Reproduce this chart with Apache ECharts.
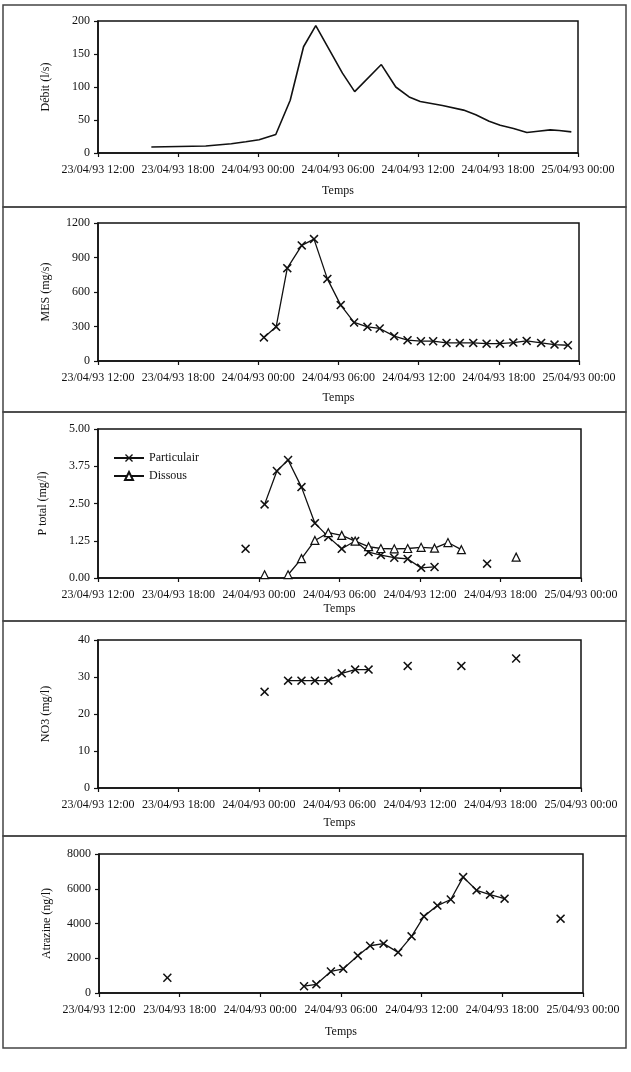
<!DOCTYPE html>
<html>
<head>
<meta charset="utf-8">
<script src="https://cdn.jsdelivr.net/npm/echarts@6/dist/echarts.min.js"></script>
<style>
  html, body { margin: 0; padding: 0; background: #fff; }
  #chart { width: 631px; height: 1072px; }
</style>
</head>
<body>
<div id="chart"></div>
<script>
  // x tick labels, one every 6 hours from 23/04/93 12:00
  const tickLabels = ['23/04/93 12:00', '23/04/93 18:00', '24/04/93 00:00', '24/04/93 06:00',
    '24/04/93 12:00', '24/04/93 18:00', '25/04/93 00:00']

  // Débit (l/s)
  const debitTimes = ['23/04 16:00', '23/04 20:05', '23/04 22:00', '23/04 23:05', '24/04 00:05', '24/04 01:20',
    '24/04 02:25', '24/04 03:25', '24/04 04:20', '24/04 06:20', '24/04 07:15', '24/04 09:15', '24/04 10:20',
    '24/04 11:20', '24/04 12:10', '24/04 13:50', '24/04 15:25', '24/04 16:20', '24/04 17:20', '24/04 18:10',
    '24/04 19:10', '24/04 20:10', '24/04 21:00', '24/04 21:55', '24/04 22:35', '24/04 23:30']
  const debitValues = [9, 10.5, 14, 17, 20, 28, 80, 161, 193, 121, 93, 134, 100,
    85, 78, 72, 65, 58, 48, 42, 37, 31, 33, 35, 34, 32]

  // MES (mg/s)
  const mesTimes = ['24/04 00:25', '24/04 01:20', '24/04 02:10', '24/04 03:15', '24/04 04:10', '24/04 05:10',
    '24/04 06:10', '24/04 07:10', '24/04 08:10', '24/04 09:05', '24/04 10:10', '24/04 11:10', '24/04 12:10',
    '24/04 13:05', '24/04 14:05', '24/04 15:05', '24/04 16:05', '24/04 17:05', '24/04 18:05', '24/04 19:05',
    '24/04 20:05', '24/04 21:10', '24/04 22:10', '24/04 23:10']
  const mesValues = [205, 297, 807, 1005, 1060, 714, 486, 335, 297, 283, 216, 181, 172,
    172, 157, 157, 157, 151, 151, 160, 175, 157, 143, 137]

  // P total (mg/l), null = no sample (line break)
  const partTimes = ['23/04 23:00', '23/04 23:40', '24/04 00:25', '24/04 01:20', '24/04 02:10', '24/04 03:10',
    '24/04 04:10', '24/04 05:10', '24/04 06:10', '24/04 07:10', '24/04 08:10', '24/04 09:05', '24/04 10:05',
    '24/04 11:05', '24/04 12:05', '24/04 13:05', '24/04 15:00', '24/04 17:00']
  const partValues = [0.98, null, 2.47, 3.59, 3.96, 3.05, 1.84, 1.38, 0.98, 1.24, 0.87, 0.77, 0.68,
    0.64, 0.34, 0.37, null, 0.48]
  const dissTimes = ['24/04 00:25', '24/04 01:20', '24/04 02:10', '24/04 03:10', '24/04 04:10', '24/04 05:10',
    '24/04 06:10', '24/04 07:10', '24/04 08:10', '24/04 09:05', '24/04 10:05', '24/04 11:05', '24/04 12:05',
    '24/04 13:05', '24/04 14:05', '24/04 15:05', '24/04 17:00', '24/04 19:10']
  const dissValues = [0.11, null, 0.11, 0.65, 1.26, 1.52, 1.43, 1.24, 1.05, 0.99, 0.98, 0.99, 1.03,
    1.00, 1.19, 0.95, null, 0.70]

  // NO3 (mg/l)
  const no3Times = ['24/04 00:25', '24/04 01:20', '24/04 02:10', '24/04 03:10', '24/04 04:10', '24/04 05:10',
    '24/04 06:10', '24/04 07:10', '24/04 08:10', '24/04 09:05', '24/04 11:05', '24/04 13:00', '24/04 15:05',
    '24/04 17:00', '24/04 19:10']
  const no3Values = [26, null, 29, 29, 29, 29, 31, 32, 32, null, 33, null, 33, null, 35]

  // Atrazine (ng/l)
  const atrTimes = ['23/04 17:05', '23/04 20:00', '24/04 03:15', '24/04 04:10', '24/04 05:15', '24/04 06:10',
    '24/04 07:15', '24/04 08:10', '24/04 09:10', '24/04 10:15', '24/04 11:15', '24/04 12:10', '24/04 13:10',
    '24/04 14:10', '24/04 15:05', '24/04 16:05', '24/04 17:05', '24/04 18:10', '24/04 20:00', '24/04 22:20']
  const atrValues = [880, null, 390, 500, 1240, 1390, 2150, 2720, 2840, 2340, 3260, 4410, 5030,
    5380, 6670, 5910, 5660, 5430, null, 4280]

  // hours since 23/04/93 12:00
  function toHours(s) {
    let day = +s.slice(0, 2), h = +s.slice(6, 8), m = +s.slice(9, 11)
    return (day - 23) * 24 + h + m / 60 - 12
  }
  function pairs(times, values) {
    return times.map((t, i) => [toHours(t), values[i] == null ? '-' : values[i]])
  }

  const font = { fontFamily: 'Liberation Serif', fontSize: 12, color: '#111' }
  const crossSymbol = 'path://M0,1.2L1.2,0L5,3.8L8.8,0L10,1.2L6.2,5L10,8.8L8.8,10L5,6.2L1.2,10L0,8.8L3.8,5Z'

  const grids = [
    { left: 98, top: 21, width: 480, height: 132 },
    { left: 98, top: 223, width: 481, height: 138 },
    { left: 98, top: 429, width: 483, height: 149 },
    { left: 98, top: 640, width: 483, height: 148 },
    { left: 99, top: 854, width: 484, height: 139 }
  ]
  const temsGaps = [32, 31, 25, 29, 33]
  const yNames = ['Débit (l/s)', 'MES (mg/s)', 'P total (mg/l)', 'NO3 (mg/l)', 'Atrazine (ng/l)']
  const yMax = [200, 1200, 5, 40, 8000]
  const yStep = [50, 300, 1.25, 10, 2000]

  const xAxes = grids.map((g, i) => ({
    gridIndex: i,
    type: 'value',
    min: 0,
    max: 36,
    interval: 6,
    name: 'Temps',
    nameLocation: 'middle',
    nameGap: temsGaps[i],
    nameTextStyle: font,
    axisLine: { lineStyle: { color: '#111', width: 1.5 } },
    axisTick: { length: 4, lineStyle: { color: '#111', width: 1.2 } },
    axisLabel: Object.assign({ margin: 11, formatter: v => tickLabels[Math.round(v / 6)] }, font),
    splitLine: { show: false }
  }))

  const yAxes = grids.map((g, i) => ({
    gridIndex: i,
    type: 'value',
    min: 0,
    max: yMax[i],
    interval: yStep[i],
    name: yNames[i],
    nameLocation: 'middle',
    nameGap: i == 2 ? 49 : 46,
    nameTextStyle: font,
    axisLine: { show: true, lineStyle: { color: '#111', width: 1.5 } },
    axisTick: { show: true, length: 4, lineStyle: { color: '#111', width: 1.2 } },
    axisLabel: Object.assign({ margin: 8, formatter: i == 2 ? (v => v.toFixed(2)) : (v => String(v)) }, font),
    splitLine: { show: false }
  }))

  function lineSeries(i, name, data, symbol, extra) {
    return Object.assign({
      name: name,
      type: 'line',
      xAxisIndex: i,
      yAxisIndex: i,
      data: data,
      symbol: symbol,
      symbolSize: 9,
      showSymbol: symbol != 'none',
      showAllSymbol: true,
      connectNulls: false,
      animation: false,
      lineStyle: { color: '#111', width: 1.3 },
      itemStyle: { color: '#111' }
    }, extra || {})
  }

  // panel frames
  const frames = [[5, 202], [207, 205], [412, 209], [621, 215], [836, 212]]

  const chart = echarts.init(document.getElementById('chart'))
  chart.setOption({
    backgroundColor: '#fff',
    animation: false,
    grid: grids.map(g => Object.assign({ show: true, borderColor: '#111', borderWidth: 1.5 }, g)),
    xAxis: xAxes,
    yAxis: yAxes,
    legend: {
      data: ['Particulair', 'Dissous'],
      orient: 'vertical',
      left: 108,
      top: 447,
      itemWidth: 30,
      itemHeight: 10,
      itemGap: 6,
      textStyle: font
    },
    graphic: frames.map(f => ({
      type: 'rect',
      shape: { x: 3, y: f[0], width: 623, height: f[1] },
      style: { fill: 'none', stroke: '#444', lineWidth: 1.5 },
      silent: true
    })),
    series: [
      lineSeries(0, 'Débit', pairs(debitTimes, debitValues), 'none', { lineStyle: { color: '#111', width: 1.6 } }),
      lineSeries(1, 'MES', pairs(mesTimes, mesValues), crossSymbol),
      lineSeries(2, 'Particulair', pairs(partTimes, partValues), crossSymbol),
      lineSeries(2, 'Dissous', pairs(dissTimes, dissValues), 'triangle', {
        symbolSize: 8,
        itemStyle: { color: '#fff', borderColor: '#111', borderWidth: 1.2 }
      }),
      lineSeries(3, 'NO3', pairs(no3Times, no3Values), crossSymbol),
      lineSeries(4, 'Atrazine', pairs(atrTimes, atrValues), crossSymbol)
    ]
  })
</script>
</body>
</html>
